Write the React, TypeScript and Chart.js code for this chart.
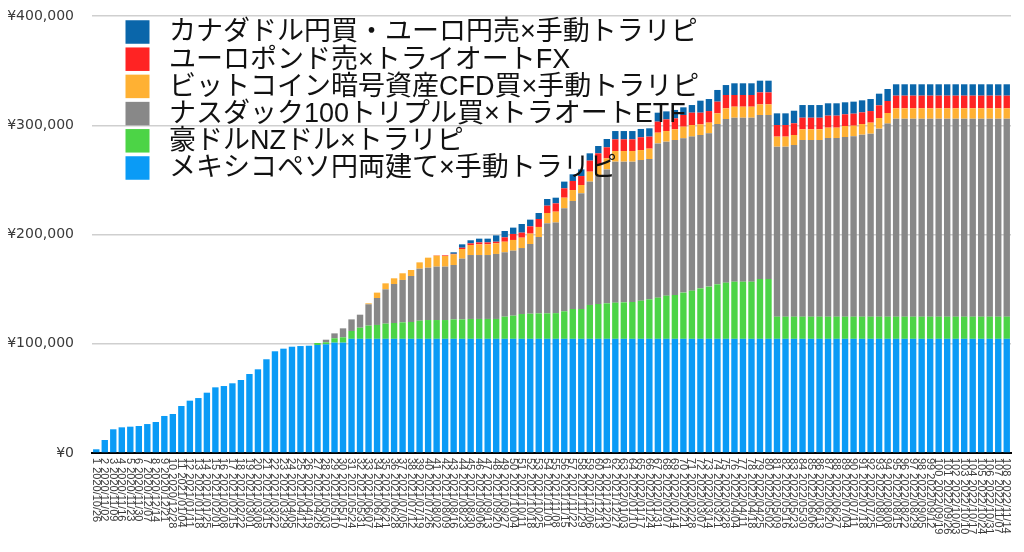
import React, { useEffect, useRef } from "react";
import { Chart, registerables } from "chart.js";

Chart.register(...registerables);

const dates = [
  "2020/10/26", "2020/11/02", "2020/11/09", "2020/11/16", "2020/11/23", "2020/11/30", "2020/12/07", "2020/12/14", "2020/12/21", "2020/12/28",
  "2021/01/04", "2021/01/11", "2021/01/18", "2021/01/25", "2021/02/01", "2021/02/08", "2021/02/15", "2021/02/22", "2021/03/01", "2021/03/08",
  "2021/03/15", "2021/03/22", "2021/03/29", "2021/04/05", "2021/04/12", "2021/04/19", "2021/04/26", "2021/05/03", "2021/05/10", "2021/05/17",
  "2021/05/24", "2021/05/31", "2021/06/07", "2021/06/14", "2021/06/21", "2021/06/28", "2021/07/05", "2021/07/12", "2021/07/19", "2021/07/26",
  "2021/08/02", "2021/08/09", "2021/08/16", "2021/08/23", "2021/08/30", "2021/09/06", "2021/09/13", "2021/09/20", "2021/09/27", "2021/10/04",
  "2021/10/11", "2021/10/18", "2021/10/25", "2021/11/01", "2021/11/08", "2021/11/15", "2021/11/22", "2021/11/29", "2021/12/06", "2021/12/13",
  "2021/12/20", "2021/12/27", "2022/01/03", "2022/01/10", "2022/01/17", "2022/01/24", "2022/01/31", "2022/02/07", "2022/02/14", "2022/02/21",
  "2022/02/28", "2022/03/07", "2022/03/14", "2022/03/21", "2022/03/28", "2022/04/04", "2022/04/11", "2022/04/18", "2022/04/25", "2022/05/02",
  "2022/05/09", "2022/05/16", "2022/05/23", "2022/05/30", "2022/06/06", "2022/06/13", "2022/06/20", "2022/06/27", "2022/07/04", "2022/07/11",
  "2022/07/18", "2022/07/25", "2022/08/01", "2022/08/08", "2022/08/15", "2022/08/22", "2022/08/29", "2022/09/05", "2022/09/12", "2022/09/19",
  "2022/09/26", "2022/10/03", "2022/10/10", "2022/10/17", "2022/10/24", "2022/10/31", "2022/11/07", "2022/11/14",
];
const labels = dates.map((d, i) => `${i + 1} ${d}`);

// メキシコペソ円両建て×手動トラリピ
const mxn = [
  3400, 11900, 21700, 23500, 24100, 24700, 26500, 28400, 33900, 35700,
  43000, 47900, 50300, 55200, 60100, 61300, 63800, 66800, 72300, 76600,
  85800, 93100, 95500, 97300, 97900, 98200, 98900, 99500, 101000, 101000,
  104500, 104500, 104500, 104500, 104500, 104500, 104500, 104500, 104500, 104500,
  104500, 104500, 104500, 104500, 104500, 104500, 104500, 104500, 104500, 104500,
  104500, 104500, 104500, 104500, 104500, 104500, 104500, 104500, 104500, 104500,
  104500, 104500, 104500, 104500, 104500, 104500, 104500, 104500, 104500, 104500,
  104500, 104500, 104500, 104500, 104500, 104500, 104500, 104500, 104500, 104500,
  104500, 104500, 104500, 104500, 104500, 104500, 104500, 104500, 104500, 104500,
  104500, 104500, 104500, 104500, 104500, 104500, 104500, 104500, 104500, 104500,
  104500, 104500, 104500, 104500, 104500, 104500, 104500, 104500,
];
// 豪ドルNZドル×トラリピ
const audnzd = [
  0, 0, 0, 0, 0, 0, 0, 0, 0, 0,
  0, 0, 0, 0, 0, 0, 0, 0, 0, 0,
  0, 0, 0, 0, 0, 0, 1800, 1800, 4000, 4900,
  7200, 10200, 12100, 12700, 13900, 14500, 15100, 15400, 16600, 17200,
  17200, 17200, 17800, 17800, 18200, 18200, 18200, 18200, 20300, 21200,
  22700, 23000, 23300, 23300, 23500, 25200, 27300, 27300, 31000, 31900,
  32500, 33100, 33400, 33700, 34900, 36200, 37700, 39500, 40100, 42300,
  44100, 46200, 47800, 49900, 51400, 52300, 52300, 52300, 54800, 54800,
  20300, 20300, 20300, 20300, 20300, 20300, 20300, 20300, 20300, 20300,
  20300, 20300, 20300, 20300, 20300, 20300, 20300, 20300, 20300, 20300,
  20300, 20300, 20300, 20300, 20300, 20300, 20300, 20300,
];
// ナスダック100トリプル買×トラオートETF
const nasdaq = [
  0, 0, 0, 0, 0, 0, 0, 0, 0, 0,
  0, 0, 0, 0, 0, 0, 0, 0, 0, 0,
  0, 0, 0, 0, 0, 0, 0, 2400, 4500, 8200,
  10600, 11900, 19500, 24700, 31400, 35700, 38800, 42100, 47600, 47900,
  48900, 48900, 49800, 55600, 58500, 58500, 58500, 59500, 58900, 59500,
  60400, 63800, 69900, 82400, 83000, 94300, 98900, 105900, 112900, 117100,
  122600, 129100, 128800, 128500, 128800, 128400, 141200, 141000, 141900, 141200,
  141000, 140400, 140300, 146700, 149800, 150100, 150100, 150100, 150100, 150100,
  155600, 155600, 157100, 161700, 161700, 161700, 163500, 163500, 164400, 165100,
  166600, 167500, 172100, 176700, 181200, 181200, 181200, 181200, 181200, 181200,
  181200, 181200, 181200, 181200, 181200, 181200, 181200, 181200,
];
// ビットコイン暗号資産CFD買×手動トラリピ
const btc = [
  0, 0, 0, 0, 0, 0, 0, 0, 0, 0,
  0, 0, 0, 0, 0, 0, 0, 0, 0, 0,
  0, 0, 0, 0, 0, 0, 0, 0, 0, 0,
  0, 0, 900, 4900, 5500, 5200, 6100, 5500, 5800, 9200,
  10000, 9700, 9700, 8800, 9200, 9800, 9800, 9700, 9700, 9800,
  9500, 9500, 9200, 9500, 9900, 9700, 10000, 7600, 9100, 10700,
  10100, 9700, 9700, 9700, 9100, 9500, 9800, 9700, 9800, 10700,
  10600, 9700, 9800, 9800, 9800, 10100, 10100, 10100, 9700, 9700,
  9200, 9200, 9200, 9800, 9800, 9800, 9500, 9500, 10100, 9700,
  9700, 10100, 9700, 9700, 9500, 9500, 9500, 9500, 9500, 9500,
  9500, 9500, 9500, 9500, 9500, 9500, 9500, 9500,
];
// ユーロポンド売×トライオートFX
const eurgbp = [
  0, 0, 0, 0, 0, 0, 0, 0, 0, 0,
  0, 0, 0, 0, 0, 0, 0, 0, 0, 0,
  0, 0, 0, 0, 0, 0, 0, 0, 0, 0,
  0, 0, 0, 0, 0, 0, 0, 0, 0, 0,
  300, 600, 500, 1200, 1500, 1800, 1800, 1500, 4000, 5500,
  4600, 6700, 7300, 6700, 7600, 8600, 8300, 8200, 10100, 10100,
  10100, 10700, 10700, 10700, 11700, 11000, 10100, 10700, 10000, 10700,
  11300, 10700, 10600, 10700, 12200, 10700, 10700, 10700, 11000, 11000,
  10600, 10600, 10700, 10600, 10600, 10600, 11000, 11000, 10700, 11000,
  10700, 10600, 11600, 11000, 11600, 11600, 11600, 11600, 11600, 11600,
  11600, 11600, 11600, 11600, 11600, 11600, 11600, 11600,
];
// カナダドル円買・ユーロ円売×手動トラリピ
const cadeur = [
  0, 0, 0, 0, 0, 0, 0, 0, 0, 0,
  0, 0, 0, 0, 0, 0, 0, 0, 0, 0,
  0, 0, 0, 0, 0, 0, 0, 0, 0, 0,
  0, 0, 0, 0, 0, 0, 0, 0, 0, 0,
  0, 0, 1400, 3100, 2800, 3400, 3400, 5800, 5800, 5800,
  7900, 6100, 5500, 6100, 5200, 6100, 6100, 6100, 6700, 6700,
  7600, 7600, 7600, 7600, 7600, 7600, 8200, 7300, 7700, 7000,
  7000, 11000, 11000, 10700, 9100, 10700, 10700, 10700, 10700, 10700,
  10700, 10700, 11500, 11600, 11600, 11600, 11300, 11300, 11000, 11000,
  11000, 11000, 10700, 11000, 10400, 10400, 10400, 10400, 10400, 10400,
  10400, 10400, 10400, 10400, 10400, 10400, 10400, 10400,
];

const seriesNames = [
  "メキシコペソ円両建て×手動トラリピ",
  "豪ドルNZドル×トラリピ",
  "ナスダック100トリプル買×トラオートETF",
  "ビットコイン暗号資産CFD買×手動トラリピ",
  "ユーロポンド売×トライオートFX",
  "カナダドル円買・ユーロ円売×手動トラリピ",
];
const seriesData = [mxn, audnzd, nasdaq, btc, eurgbp, cadeur];
const seriesColors = ["#0A9BF6", "#4CD446", "#888888", "#FFB133", "#FF2323", "#0A66AA"];

const yTicks = [0, 100000, 200000, 300000, 400000];

const legendPlugin = {
  id: "customLegend",
  afterDatasetsDraw(chart: any) {
    const ctx = chart.ctx;
    ctx.save();
    ctx.font = '27px "Liberation Sans", "Noto Sans CJK JP"';
    ctx.textBaseline = "middle";
    ctx.textAlign = "left";
    const order = [5, 4, 3, 2, 1, 0];
    order.forEach((idx, row) => {
      const cy = 32 + row * 27.2;
      ctx.fillStyle = seriesColors[idx];
      ctx.fillRect(125.5, cy - 11.75, 24, 23.5);
      ctx.fillStyle = "#111111";
      ctx.fillText(seriesNames[idx], 169, cy + 1);
    });
    ctx.restore();
  },
};

const xLabelPlugin = {
  id: "rotatedXLabels",
  afterDraw(chart: any) {
    const ctx = chart.ctx;
    const xs = chart.scales.x;
    ctx.save();
    ctx.font = '11px "Liberation Sans"';
    ctx.fillStyle = "#3a3a3a";
    ctx.textAlign = "left";
    ctx.textBaseline = "middle";
    labels.forEach((lab, i) => {
      const x = xs.getPixelForValue(i);
      ctx.save();
      ctx.translate(x - 0.5, chart.chartArea.bottom + 5);
      ctx.rotate(Math.PI / 2);
      ctx.fillText(lab, 0, 0);
      ctx.restore();
    });
    ctx.restore();
  },
};

export default function App() {
  const ref = useRef<HTMLCanvasElement | null>(null);
  useEffect(() => {
    if (!ref.current) return;
    const chart = new Chart(ref.current, {
      type: "bar",
      data: {
        labels,
        datasets: seriesData.map((d, i) => ({
          label: seriesNames[i],
          data: d,
          backgroundColor: seriesColors[i],
          borderWidth: 0,
          barPercentage: 0.75,
          categoryPercentage: 1,
        })),
      },
      options: {
        animation: false,
        responsive: false,
        devicePixelRatio: 1,
        layout: { padding: { left: 0, right: 13, top: 16, bottom: 0 } },
        plugins: { legend: { display: false }, tooltip: { enabled: false } },
        scales: {
          x: {
            stacked: true,
            grid: { display: false },
            border: { display: true, color: "#000000", width: 2 },
            ticks: { display: false },
            afterFit: (s: any) => {
              s.height = 99;
              s.paddingLeft = 0;
              s.paddingRight = 0;
            },
          },
          y: {
            stacked: true,
            min: 0,
            max: 400000,
            afterBuildTicks: (s: any) => {
              s.ticks = yTicks.map((v) => ({ value: v }));
            },
            grid: { color: "#cfcfcf", lineWidth: 1.5, drawTicks: false },
            border: { display: false },
            ticks: {
              padding: 18,
              color: "#3a3a3a",
              font: { family: '"DejaVu Sans"', size: 14 },
              callback: (v: any) => "¥" + Number(v).toLocaleString("en-US"),
            },
            afterFit: (s: any) => {
              s.width = 92;
              s.paddingTop = 0;
              s.paddingBottom = 0;
            },
          },
        },
      },
      plugins: [legendPlugin, xLabelPlugin],
    });
    return () => chart.destroy();
  }, []);
  return (
    <div style={{ position: "absolute", left: 0, top: 0, width: 1024, height: 552, background: "#fff" }}>
      <canvas ref={ref} width={1024} height={552} />
    </div>
  );
}
